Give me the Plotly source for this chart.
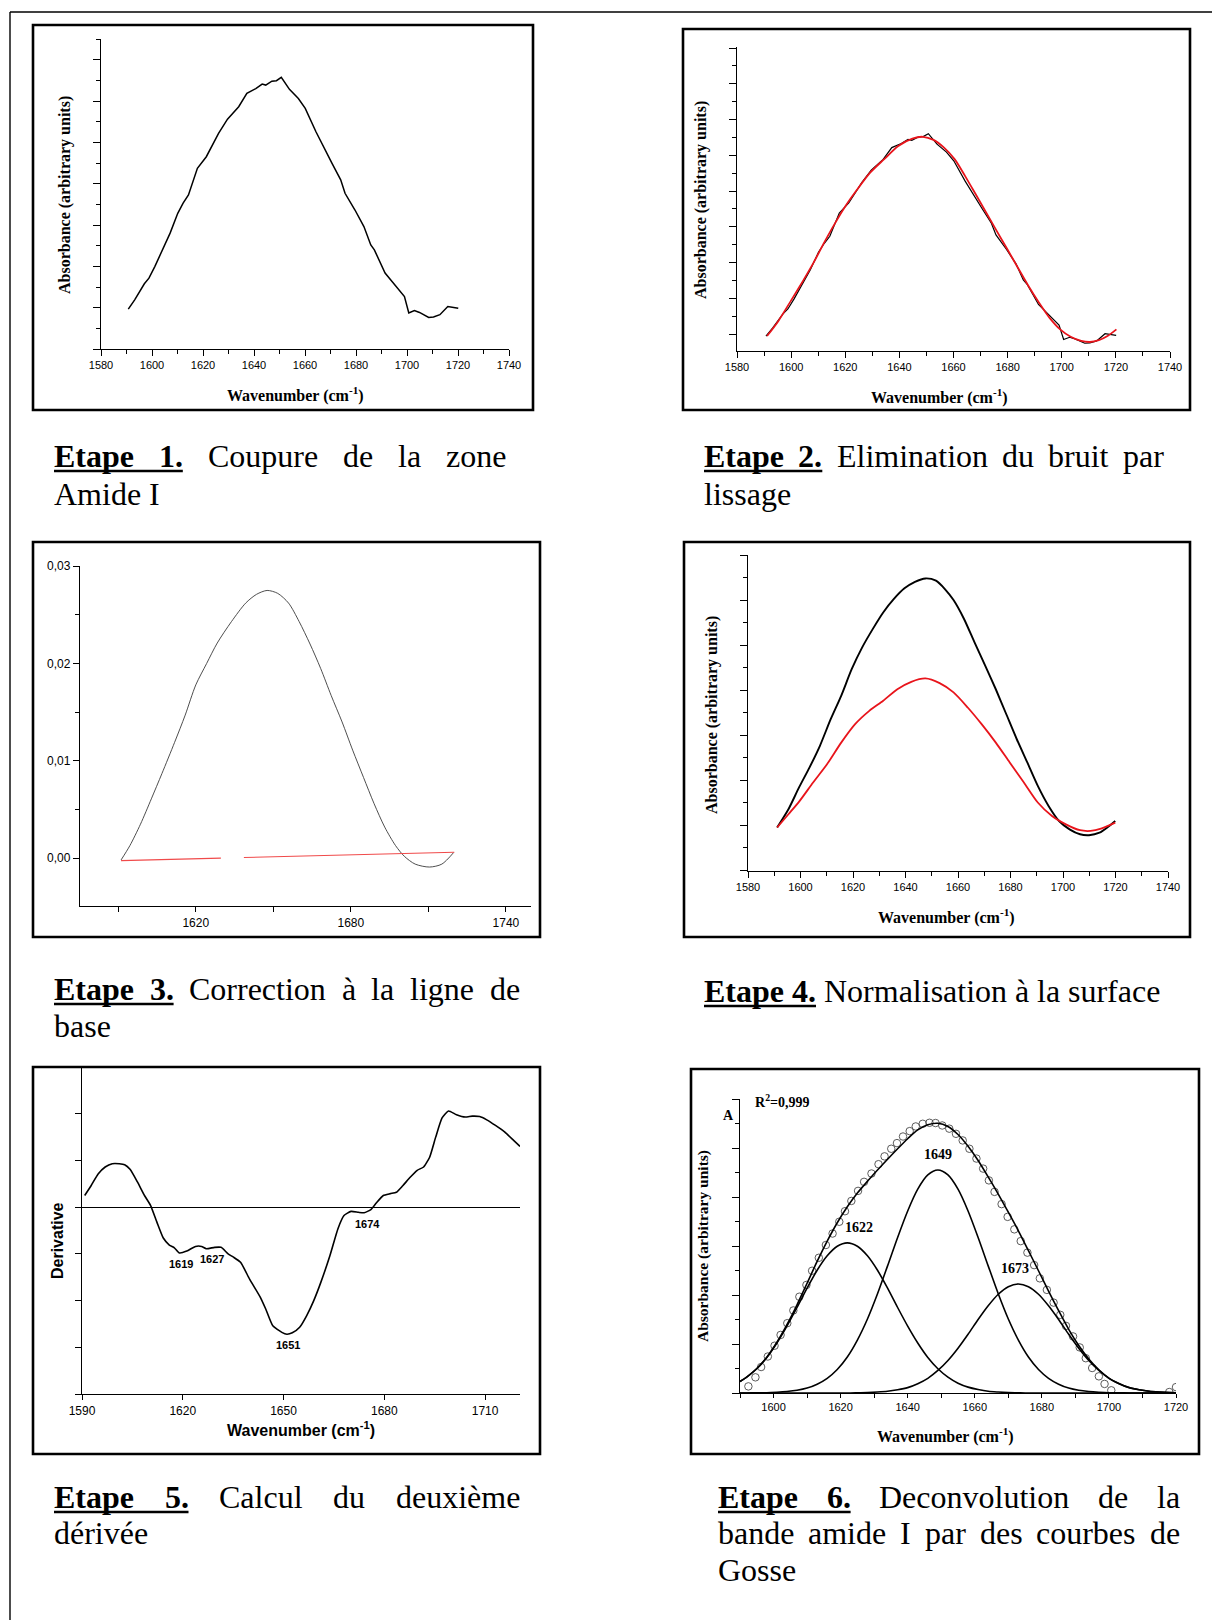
import plotly.graph_objects as go

# ------------------------------------------------------------------
# Spectral data – Amide I region (wavenumber in cm-1)
# ------------------------------------------------------------------

# Step 1: raw Amide I band (arbitrary absorbance units)
raw_wn = [1590.7, 1593.2, 1597.0, 1598.8, 1601.1, 1604.6, 1607.1, 1610.1, 1612.2, 1614.3,
          1617.8, 1621.3, 1623.8, 1626.1, 1629.6, 1631.7, 1634.0, 1637.2, 1640.7, 1643.2,
          1644.6, 1647.0, 1648.8, 1650.7, 1653.9, 1657.4, 1660.1, 1664.3, 1667.4, 1670.6,
          1674.0, 1675.7, 1679.6, 1683.1, 1685.8, 1687.2, 1691.4, 1694.2, 1696.9, 1699.0,
          1700.7, 1702.9, 1704.9, 1708.5, 1710.4, 1712.9, 1716.0, 1717.8, 1720.1]
raw_abs = [1.93, 2.38, 3.16, 3.43, 3.99, 4.89, 5.61, 6.57, 7.06, 7.46,
           8.75, 9.31, 9.92, 10.44, 11.13, 11.40, 11.73, 12.38, 12.61, 12.83,
           12.78, 12.97, 12.99, 13.15, 12.57, 12.13, 11.65, 10.52, 9.80, 8.99,
           8.19, 7.54, 6.73, 5.93, 5.04, 4.80, 3.68, 3.27, 2.87, 2.54,
           1.74, 1.86, 1.77, 1.53, 1.55, 1.66, 2.06, 2.03, 1.97]

# Step 2: smoothed spectrum (same units as the raw band)
smooth_wn = [1591.1, 1595.3, 1599.9, 1604.4, 1608.3, 1612.2, 1616.2, 1620.1, 1624.0, 1629.2,
             1634.4, 1639.6, 1644.8, 1648.7, 1652.6, 1656.5, 1660.4, 1664.3, 1668.2, 1672.1,
             1676.0, 1679.9, 1683.8, 1687.7, 1691.6, 1695.5, 1699.4, 1703.3, 1707.2, 1710.4,
             1713.7, 1716.9, 1720.2]
smooth_abs = [1.93, 2.77, 3.88, 4.99, 6.00, 7.11, 8.18, 9.14, 9.97, 10.99,
              11.74, 12.47, 12.88, 12.98, 12.81, 12.38, 11.74, 10.80, 9.79, 8.77,
              7.75, 6.74, 5.72, 4.71, 3.78, 2.94, 2.30, 1.89, 1.66, 1.60,
              1.70, 1.93, 2.30]

# Step 3: spectrum and linear baseline
base_wn = [1591.1, 1594.5, 1598.6, 1602.8, 1606.9, 1611.8, 1615.9, 1620.0, 1624.2, 1628.3,
           1633.8, 1639.3, 1643.5, 1647.6, 1651.7, 1655.9, 1660.0, 1664.2, 1668.3, 1672.4,
           1676.6, 1680.7, 1684.9, 1689.0, 1693.1, 1697.3, 1700.7, 1704.9, 1710.4, 1715.2,
           1719.8]
base_abs = [-0.00017, 0.0013, 0.0035, 0.0061, 0.0087, 0.0119, 0.0147, 0.0178, 0.0200, 0.0221,
            0.0243, 0.0262, 0.0271, 0.0275, 0.0272, 0.0262, 0.0243, 0.0220, 0.0195, 0.0167,
            0.0140, 0.0111, 0.0083, 0.0056, 0.0032, 0.0013, 0.0002, -0.0006, -0.0009, -0.0006,
            0.0006]
baseline_wn = [1591.1, 1629.7, None, 1638.6, 1720.0]
baseline_abs = [-0.00024, 0.00002, None, 0.00008, 0.00062]

# Step 4: spectrum before (black) and after (red) area normalisation
norm_before_wn = [1591.1, 1595.4, 1599.4, 1603.4, 1607.4, 1611.5, 1615.5, 1619.5, 1623.5, 1627.5,
                  1631.5, 1635.5, 1639.6, 1643.6, 1647.6, 1651.6, 1655.0, 1658.3, 1662.3, 1666.3,
                  1670.4, 1674.4, 1678.4, 1682.4, 1686.4, 1690.4, 1694.5, 1698.5, 1702.5, 1706.5,
                  1709.9, 1713.9, 1717.2, 1719.9]
norm_before_abs = [-0.10, 0.71, 1.67, 2.56, 3.53, 4.71, 5.75, 6.93, 7.90, 8.71,
                   9.45, 10.04, 10.52, 10.81, 10.96, 10.86, 10.49, 10.00, 9.16, 8.12,
                   7.08, 6.04, 4.93, 3.82, 2.79, 1.75, 0.86, 0.19, -0.18, -0.40,
                   -0.44, -0.33, -0.07, 0.19]
norm_after_wn = [1591.1, 1595.4, 1599.4, 1604.8, 1610.1, 1615.5, 1620.8, 1626.2, 1631.5, 1636.9,
                 1642.2, 1647.6, 1653.0, 1658.3, 1663.7, 1669.0, 1674.4, 1679.7, 1685.1, 1690.4,
                 1695.8, 1701.1, 1706.5, 1710.5, 1714.5, 1719.9]
norm_after_abs = [-0.10, 0.49, 1.04, 1.90, 2.71, 3.67, 4.49, 5.08, 5.53, 6.04,
                  6.37, 6.52, 6.31, 5.90, 5.23, 4.49, 3.67, 2.79, 1.90, 1.01,
                  0.41, 0.04, -0.22, -0.25, -0.15, 0.12]

# Step 5: second derivative
deriv_wn = [1590.8, 1592.7, 1594.8, 1596.9, 1599.0, 1601.1, 1602.7, 1604.3, 1606.5, 1608.6,
            1610.4, 1612.3, 1614.2, 1616.0, 1617.5, 1619.0, 1621.2, 1623.8, 1625.6, 1627.0,
            1629.5, 1631.4, 1633.5, 1635.1, 1637.2, 1639.9, 1643.1, 1644.7, 1646.8, 1649.5,
            1651.0, 1652.6, 1654.8, 1656.9, 1659.0, 1661.1, 1663.8, 1666.2, 1668.0, 1670.1,
            1672.3, 1674.0, 1676.0, 1677.6, 1679.7, 1681.8, 1683.6, 1685.5, 1687.7, 1689.8,
            1691.7, 1693.5, 1695.3, 1697.2, 1699.1, 1701.5, 1704.1, 1706.2, 1708.4, 1710.5,
            1713.1, 1715.8, 1718.5, 1720.4]
deriv_val = [0.25, 0.46, 0.71, 0.86, 0.93, 0.93, 0.91, 0.81, 0.54, 0.25,
             0.04, -0.32, -0.66, -0.81, -0.87, -0.98, -0.94, -0.84, -0.84, -0.89,
             -0.86, -0.86, -1.00, -1.07, -1.18, -1.54, -1.93, -2.18, -2.54, -2.68,
             -2.72, -2.69, -2.57, -2.32, -2.00, -1.61, -1.04, -0.46, -0.18, -0.09,
             -0.11, -0.12, -0.05, 0.09, 0.25, 0.29, 0.32, 0.46, 0.64, 0.79,
             0.86, 1.07, 1.50, 1.91, 2.06, 1.98, 1.93, 1.95, 1.94, 1.87,
             1.75, 1.61, 1.43, 1.30]
deriv_bands = [1619, 1627, 1651, 1674]

# Step 6: Gaussian deconvolution of the Amide I band
fit_wn = [1590, 1592, 1595, 1598, 1601, 1604, 1607, 1610, 1613, 1616,
          1619, 1622, 1625, 1628, 1631, 1634, 1637, 1640, 1643, 1646,
          1649, 1652, 1655, 1658, 1661, 1664, 1667, 1670, 1673, 1676,
          1679, 1682, 1685, 1688, 1691, 1694, 1697, 1700, 1703, 1706,
          1709, 1712, 1715, 1718, 1720]
band_1622 = [0.47, 0.65, 0.99, 1.45, 2.04, 2.73, 3.49, 4.28, 5.01, 5.60,
             5.99, 6.13, 5.99, 5.60, 5.01, 4.28, 3.49, 2.73, 2.04, 1.45,
             0.99, 0.65, 0.40, 0.24, 0.14, 0.07, 0.04, 0.02, 0.01, 0.0,
             0.0, 0.0, 0.0, 0.0, 0.0, 0.0, 0.0, 0.0, 0.0, 0.0,
             0.0, 0.0, 0.0, 0.0, 0.0]
band_1649 = [0.0, 0.0, 0.01, 0.01, 0.03, 0.06, 0.11, 0.20, 0.36, 0.60,
             0.96, 1.47, 2.16, 3.02, 4.05, 5.19, 6.35, 7.43, 8.32, 8.90,
             9.10, 8.90, 8.32, 7.43, 6.35, 5.19, 4.05, 3.02, 2.16, 1.47,
             0.96, 0.60, 0.36, 0.20, 0.11, 0.06, 0.03, 0.01, 0.01, 0.0,
             0.0, 0.0, 0.0, 0.0, 0.0]
band_1673 = [0.0, 0.0, 0.0, 0.0, 0.0, 0.0, 0.0, 0.0, 0.0, 0.0,
             0.0, 0.0, 0.01, 0.02, 0.04, 0.07, 0.13, 0.22, 0.38, 0.60,
             0.92, 1.33, 1.83, 2.40, 3.00, 3.56, 4.03, 4.34, 4.45, 4.34,
             4.03, 3.56, 3.00, 2.40, 1.83, 1.33, 0.92, 0.60, 0.38, 0.22,
             0.13, 0.07, 0.04, 0.02, 0.01]
fit_total = [0.47, 0.65, 1.00, 1.46, 2.07, 2.79, 3.60, 4.48, 5.37, 6.20,
             6.95, 7.60, 8.16, 8.64, 9.10, 9.54, 9.97, 10.38, 10.74, 10.95,
             11.01, 10.88, 10.55, 10.07, 9.49, 8.82, 8.12, 7.38, 6.62, 5.81,
             4.99, 4.16, 3.36, 2.60, 1.94, 1.39, 0.95, 0.61, 0.39, 0.22,
             0.13, 0.07, 0.04, 0.02, 0.01]
meas_wn = [1592.5, 1594.6, 1596.3, 1598.3, 1600.3, 1602.1, 1604.1, 1605.9, 1607.7, 1609.8,
           1611.5, 1613.5, 1615.6, 1617.6, 1619.6, 1621.3, 1623.2, 1625.2, 1627.0, 1629.2,
           1631.3, 1633.1, 1635.1, 1636.8, 1638.6, 1640.6, 1642.4, 1644.5, 1646.5, 1648.3,
           1650.3, 1652.4, 1654.4, 1656.4, 1658.4, 1660.5, 1662.5, 1664.2, 1665.9, 1668.0,
           1669.8, 1671.8, 1673.7, 1675.7, 1677.7, 1679.4, 1681.5, 1683.5, 1685.5, 1687.2,
           1689.3, 1691.3, 1693.1, 1695.0, 1697.0, 1698.7, 1700.7, 1718.0, 1720.0]
meas_abs = [0.27, 0.64, 1.06, 1.49, 1.93, 2.37, 2.85, 3.37, 3.93, 4.41,
            4.99, 5.52, 6.04, 6.51, 6.99, 7.42, 7.84, 8.25, 8.62, 8.96,
            9.34, 9.66, 9.97, 10.20, 10.47, 10.69, 10.88, 10.99, 11.03, 11.02,
            10.92, 10.79, 10.58, 10.31, 9.97, 9.57, 9.16, 8.68, 8.21, 7.71,
            7.19, 6.68, 6.20, 5.73, 5.22, 4.68, 4.21, 3.69, 3.19, 2.74,
            2.31, 1.86, 1.42, 1.02, 0.68, 0.37, 0.11, 0.04, 0.24]
fit_bands = [1622, 1649, 1673]
fit_r2 = "0,999"

# Step captions (French)
captions = [
    ("Etape 1.", ["Coupure de la zone", "Amide I"]),
    ("Etape 2.", ["Elimination du bruit par", "lissage"]),
    ("Etape 3.", ["Correction à la ligne de", "base"]),
    ("Etape 4.", ["Normalisation à la surface"]),
    ("Etape 5.", ["Calcul du deuxième", "dérivée"]),
    ("Etape 6.", ["Deconvolution de la", "bande amide I par des courbes de", "Gosse"]),
]

# ------------------------------------------------------------------
# Page geometry helpers (page pixels -> paper coordinates)
# ------------------------------------------------------------------
W, H = 1212, 1620
SERIF = "Liberation Serif"
SANS = "Liberation Sans"


def fx(p):
    return p / W


def fy(p):
    return 1 - p / H


fig = go.Figure()


def sfx(n):
    return "" if n == 1 else str(n)


def curve(x, y, n, color="black", width=1.5, shape="linear", smoothing=1.0):
    fig.add_trace(go.Scatter(
        x=x, y=y, mode="lines", xaxis="x" + sfx(n), yaxis="y" + sfx(n),
        line=dict(color=color, width=width, shape=shape, smoothing=smoothing),
        hoverinfo="skip", connectgaps=False))


def x_axis(n, left, right, rng, major, minor, size=11, ticklen=6, minorlen=3.5):
    ax = dict(domain=[fx(left), fx(right)], range=rng, anchor="y" + sfx(n),
              automargin=False,
              showline=True, linecolor="black", linewidth=1.3, mirror=False,
              showgrid=False, zeroline=False, ticks="outside", ticklen=ticklen,
              tickwidth=1.1, tickcolor="black", tickmode="array", tickvals=major,
              tickfont=dict(family=SANS, size=size, color="black"), fixedrange=True)
    if minor:
        ax["minor"] = dict(tickmode="array", tickvals=minor, ticks="outside",
                           ticklen=minorlen, tickwidth=1.1, tickcolor="black", showgrid=False)
    return ax


def y_axis(n, top, bottom, rng, major, minor, ticklen=7, minorlen=4, labels=False, size=11):
    ax = dict(domain=[fy(bottom), fy(top)], range=rng, anchor="x" + sfx(n),
              automargin=False,
              showline=True, linecolor="black", linewidth=1.3, mirror=False,
              showgrid=False, zeroline=False, ticks="outside", ticklen=ticklen,
              tickwidth=1.1, tickcolor="black", tickmode="array", tickvals=major,
              showticklabels=labels, tickfont=dict(family=SANS, size=size, color="black"),
              fixedrange=True)
    if minor:
        ax["minor"] = dict(tickmode="array", tickvals=minor, ticks="outside",
                           ticklen=minorlen, tickwidth=1.1, tickcolor="black", showgrid=False)
    return ax


def text(x, y, s, family=SERIF, size=16, angle=0, xanchor="center", yanchor="middle"):
    fig.add_annotation(x=fx(x), y=fy(y), xref="paper", yref="paper", text=s,
                       showarrow=False, textangle=angle, xanchor=xanchor, yanchor=yanchor,
                       font=dict(family=family, size=size, color="black"),
                       borderpad=0, borderwidth=0)


def data_text(n, x, y, s, family, size):
    fig.add_annotation(x=x, y=y, xref="x" + sfx(n), yref="y" + sfx(n), text=s,
                       showarrow=False, xanchor="center", yanchor="middle",
                       font=dict(family=family, size=size, color="black"),
                       borderpad=0, borderwidth=0)


WN_TITLE = "<b>Wavenumber (cm<sup>-1</sup>)</b>"
ABS_TITLE = "<b>Absorbance (arbitrary units)</b>"
x_major = list(range(1580, 1741, 20))
x_minor = list(range(1590, 1740, 20))

# ---- Panel 1: raw band ----
curve(raw_wn, raw_abs, 1, width=1.5)
xa1 = x_axis(1, 101, 509, [1580, 1740], x_major, x_minor)
ya1 = y_axis(1, 39, 349, [0, 15.01], list(range(0, 15, 2)), list(range(1, 16, 2)))
text(295, 395, WN_TITLE)
text(65, 195, ABS_TITLE, angle=-90)

# ---- Panel 2: raw + smoothed ----
curve(raw_wn, raw_abs, 2, width=1.2)
curve(smooth_wn, smooth_abs, 2, color="#e8141b", width=1.8, shape="spline", smoothing=0.8)
p2_major = [2.04, 4.02, 6.01, 7.99, 9.97, 11.95, 13.94, 15.92, 17.90]
p2_minor = [3.03, 5.01, 7.00, 8.98, 10.96, 12.95, 14.93, 16.91]
xa2 = x_axis(2, 737, 1170, [1580, 1740], x_major, x_minor)
ya2 = y_axis(2, 47, 351, [1.10, 17.96], p2_major, p2_minor)
text(940, 396, WN_TITLE)
text(701, 200, ABS_TITLE, angle=-90)

# ---- Panel 3: baseline correction ----
curve(base_wn, base_abs, 3, color="#3a3a3a", width=0.9, shape="spline", smoothing=0.8)
curve(baseline_wn, baseline_abs, 3, color="#f04a4a", width=1.1)
xa3 = x_axis(3, 80, 531, [1575.2, 1749.7], [1620, 1680, 1740], [1590, 1650, 1710],
             size=12, ticklen=5, minorlen=5)
ya3 = y_axis(3, 566, 906, [-0.0049, 0.03001], [0, 0.01, 0.02, 0.03], [0.005, 0.015, 0.025],
             ticklen=6, minorlen=4, labels=True, size=12)
ya3["ticktext"] = ["0,00", "0,01", "0,02", "0,03"]

# ---- Panel 4: normalisation ----
curve(norm_before_wn, norm_before_abs, 4, width=1.9, shape="spline", smoothing=0.7)
curve(norm_after_wn, norm_after_abs, 4, color="#e8141b", width=1.8, shape="spline", smoothing=0.7)
xa4 = x_axis(4, 748, 1168, [1580, 1740], x_major, x_minor)
ya4 = y_axis(4, 555, 871, [-2.03, 12.001], list(range(-2, 13, 2)), list(range(-1, 12, 2)))
text(946, 916, WN_TITLE)
text(712, 715, ABS_TITLE, angle=-90)

# ---- Panel 5: second derivative ----
curve(deriv_wn, deriv_val, 5, width=1.6, shape="spline", smoothing=0.5)
xa5 = x_axis(5, 82, 520, [1590, 1720.4], [1590, 1620, 1650, 1680, 1710], None,
             size=12, ticklen=5)
ya5 = y_axis(5, 1068, 1394, [-4, 2.98], list(range(-4, 3)), None, ticklen=6)
ya5.update(zeroline=True, zerolinecolor="black", zerolinewidth=1.3)
text(301, 1429, "<b>Wavenumber (cm<sup>-1</sup>)</b>", family=SANS, size=16)
text(57, 1241, "<b>Derivative</b>", family=SANS, size=16, angle=-90)
deriv_label_dx = [0.5, 1.6, 0.3, 0.9]
for band, dx in zip(deriv_bands, deriv_label_dx):
    i = min(range(len(deriv_wn)), key=lambda k: abs(deriv_wn[k] - band))
    data_text(5, band + dx, deriv_val[i] - 0.23, f"<b>{band}</b>", SANS, 11)

# ---- Panel 6: Gaussian deconvolution ----
fig.add_trace(go.Scatter(
    x=meas_wn, y=meas_abs, mode="markers", xaxis="x6", yaxis="y6", hoverinfo="skip",
    marker=dict(symbol="circle-open", size=7.5, color="#4a4a4a", line=dict(width=0.9))))
for band_curve in (band_1622, band_1649, band_1673, fit_total):
    curve(fit_wn, band_curve, 6, width=1.6, shape="spline", smoothing=0.8)
xa6 = x_axis(6, 740, 1176, [1590, 1720], list(range(1600, 1721, 20)),
             list(range(1590, 1720, 20)), ticklen=4, minorlen=4)
ya6 = y_axis(6, 1099, 1393, [0, 12.001], list(range(0, 13, 2)), list(range(1, 12, 2)),
             ticklen=7, minorlen=3.5)
text(945, 1435, WN_TITLE)
text(703, 1246, ABS_TITLE, size=15.5, angle=-90)
text(728, 1115, "<b>A</b>", size=14)
text(755, 1101, f"<b>R<sup>2</sup>={fit_r2}</b>", size=14, xanchor="left")
fit_label_dx = [3.4, 0.0, -1.1]
for band, band_curve, dx in zip(fit_bands, (band_1622, band_1649, band_1673), fit_label_dx):
    data_text(6, band + dx, max(band_curve) + 0.62, f"<b>{band}</b>", SERIF, 14)

# ------------------------------------------------------------------
# Frames, page border and captions
# ------------------------------------------------------------------
frames = [(33, 25, 533, 410), (683, 29, 1190, 410), (33, 542, 540, 937),
          (684, 542, 1190, 937), (33, 1067, 540, 1454), (691, 1069, 1199, 1454)]
for x0, y0, x1, y1 in frames:
    fig.add_shape(type="rect", xref="paper", yref="paper", x0=fx(x0), x1=fx(x1),
                  y0=fy(y0), y1=fy(y1), line=dict(color="black", width=2.6))
fig.add_shape(type="line", xref="paper", yref="paper", x0=fx(10), x1=fx(1212),
              y0=fy(12), y1=fy(12), line=dict(color="black", width=1.4))
fig.add_shape(type="line", xref="paper", yref="paper", x0=fx(10), x1=fx(10),
              y0=fy(12), y1=fy(1620), line=dict(color="black", width=1.4))

# Times-compatible advance widths (per 1000 em) used to justify caption lines
TNR = {" ": 250, "a": 444, "b": 500, "c": 444, "d": 500, "e": 444, "f": 333, "g": 500,
       "h": 500, "i": 278, "l": 278, "m": 778, "n": 500, "o": 500, "p": 500, "r": 333,
       "s": 389, "t": 278, "u": 500, "v": 500, "x": 500, "z": 444, "A": 722, "C": 667,
       "D": 722, "E": 611, "G": 722, "I": 333, "N": 722, "à": 444, "é": 444, "è": 444,
       ".": 250}
TNR_BOLD = {"E": 667, "t": 333, "a": 500, "p": 556, "e": 444, ".": 250, " ": 250}
CAP = 32


def tw(s, bold=False):
    table = TNR_BOLD if bold else TNR
    return sum(table.get(c, 500) for c in s) * CAP / 1000


def caption_line(x0, x1, yc, words, nbold):
    widths = [tw(w, i < nbold) for i, w in enumerate(words)]
    gap = tw(" ") if x1 is None else (x1 - x0 - sum(widths)) / (len(words) - 1)
    x = x0
    label_end = None
    for i, (w, wd) in enumerate(zip(words, widths)):
        text(x, yc, f"<b>{w}</b>" if i < nbold else w, size=CAP, xanchor="left")
        if i == nbold - 1:
            label_end = x + wd
        x += wd + gap
    if nbold:
        fig.add_shape(type="line", xref="paper", yref="paper", x0=fx(x0), x1=fx(label_end),
                      y0=fy(yc + 15), y1=fy(yc + 15), line=dict(color="black", width=2.6))


# (left, right edge if justified, centre line y) for every caption line
caption_layout = [
    [(54, 506, 456), (54, None, 494)],
    [(704, 1164, 456), (704, None, 494)],
    [(54, 520, 989), (54, None, 1026)],
    [(704, None, 991)],
    [(54, 520, 1497), (54, None, 1533)],
    [(718, 1180, 1497), (718, 1180, 1533), (718, None, 1570)],
]
for (label, lines), layout in zip(captions, caption_layout):
    for k, (line, (x0, x1, yc)) in enumerate(zip(lines, layout)):
        words = line.split(" ")
        if k == 0:
            caption_line(x0, x1, yc, label.split(" ") + words, 2)
        else:
            caption_line(x0, x1, yc, words, 0)

fig.update_layout(
    width=W, height=H,
    margin=dict(l=0, r=0, t=0, b=0, pad=0, autoexpand=False),
    paper_bgcolor="white", plot_bgcolor="white", showlegend=False,
    xaxis=xa1, yaxis=ya1, xaxis2=xa2, yaxis2=ya2, xaxis3=xa3, yaxis3=ya3,
    xaxis4=xa4, yaxis4=ya4, xaxis5=xa5, yaxis5=ya5, xaxis6=xa6, yaxis6=ya6,
)

fig.write_html("out.html")
